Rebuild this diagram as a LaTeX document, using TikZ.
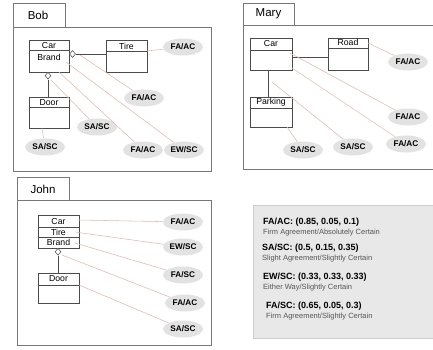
\documentclass[tikz,border=0pt]{standalone}
\usepackage{fontspec}
\setmainfont{Liberation Sans}
\usetikzlibrary{shapes.geometric,calc}
\definecolor{linkc}{RGB}{222,186,178}
\definecolor{ellc}{RGB}{226,226,226}
\definecolor{framec}{RGB}{120,120,120}
\definecolor{boxc}{RGB}{75,75,75}
\definecolor{legfill}{RGB}{232,232,232}
\definecolor{legdraw}{RGB}{210,205,205}
\definecolor{subc}{RGB}{85,85,85}
\begin{document}
\begin{tikzpicture}[x=1pt,y=-1pt,
 frame/.style={draw=framec,line width=0.7pt},
 cls/.style={draw=boxc,line width=0.6pt,fill=white,inner sep=0pt,rectangle},
 lbl/.style={font=\fontsize{8.7}{9}\selectfont,inner sep=0pt},
 title/.style={font=\fontsize{11.5}{12}\selectfont,inner sep=0pt},
 tag/.style={ellipse,fill=ellc,minimum width=40pt,minimum height=17pt,inner sep=0pt,font=\bfseries\fontsize{8.2}{9}\selectfont},
 link/.style={draw=linkc,line width=0.55pt},
 assoc/.style={draw=boxc,line width=0.6pt},
 agg/.style={diamond,draw=boxc,fill=white,line width=0.5pt,minimum width=6pt,minimum height=7pt,inner sep=0pt},
 head/.style={font=\bfseries\fontsize{9}{10}\selectfont,anchor=base west,inner sep=0pt},
 sub/.style={font=\fontsize{7.5}{8}\selectfont,text=subc,anchor=base west,inner sep=0pt}]
\useasboundingbox (0,0) rectangle (433,349);
\fill[white] (0,0) rectangle (433,349);

% ---------------- Bob ----------------
\draw[frame] (13,3) rectangle (65,27);
\draw[frame] (13,27) rectangle (211,171);
\node[title] (bobt) at (38,15.5) {Bob};

\node[cls,minimum width=40pt,minimum height=32pt] (bcar) at (49,56) {};
\draw[assoc] (29,50) -- (69,50);
\node[lbl] (bcarl) at (49,45.5) {Car};
\node[lbl] (bbrandl) at (49,57.5) {Brand};

\node[cls,minimum width=41pt,minimum height=32pt] (btire) at (126.5,56) {};
\draw[assoc] (106,51) -- (147,51);
\node[lbl] (btirel) at (126.5,46) {Tire};

\node[cls,minimum width=40pt,minimum height=31pt] (bdoor) at (49,112.5) {};
\draw[assoc] (29,107) -- (69,107);
\node[lbl] (bdoorl) at (49,102.5) {Door};

\node[agg,anchor=west] (bd1) at (bcar.east |- 0,54) {};
\draw[assoc] (bd1.east) -- (bd1.east -| btire.west);
\node[agg,anchor=north] (bd2) at (48,72) {};
\draw[assoc] (bd2.south) -- (bd2.south |- bdoor.north);

\node[tag] (bfa1) at (183,47) {FA/AC};
\node[tag] (bfa2) at (144,98) {FA/AC};
\node[tag] (bsa1) at (97,127) {SA/SC};
\node[tag] (bsa2) at (45,147) {SA/SC};
\node[tag] (bfa3) at (143,150) {FA/AC};
\node[tag] (bew) at (184,150) {EW/SC};

\coordinate (bs1) at (147,51);
\coordinate (bs2) at (80,55);
\coordinate (bs3) at (66,62);
\coordinate (bs4) at (59,72);
\coordinate (bs5) at (51,80);
\coordinate (bs6) at (42,128);
\draw[link] (bs1) -- (bfa1);
\draw[link] (bs2) -- (bfa2);
\draw[link] (bs3) -- (bew);
\draw[link] (bs4) -- (bfa3);
\draw[link] (bs5) -- (bsa1);
\draw[link] (bs6) -- (bsa2);

% ---------------- Mary ----------------
\draw[frame] (243,3) rectangle (294,25);
\draw[frame] (436,25) -- (243,25) -- (243,169) -- (436,169);
\node[title] (maryt) at (268.5,14) {Mary};

\node[cls,minimum width=42pt,minimum height=32pt] (mcar) at (271,54) {};
\draw[assoc] (250,50) -- (292,50);
\node[lbl] (mcarl) at (271,44) {Car};

\node[cls,minimum width=40pt,minimum height=32pt] (mroad) at (348,54) {};
\draw[assoc] (328,48) -- (368,48);
\node[lbl] (mroadl) at (348,42.5) {Road};

\node[cls,minimum width=42pt,minimum height=30pt] (mpark) at (271,112) {};
\draw[assoc] (250,108) -- (292,108);
\node[lbl] (mparkl) at (271,102.5) {Parking};

\draw[assoc] (mcar.east |- 0,57) -- (mroad.west |- 0,57);
\draw[assoc] (268,70) -- (268,97);

\node[tag] (mfa1) at (408,62) {FA/AC};
\node[tag] (mfa2) at (408,117) {FA/AC};
\node[tag] (mfa3) at (406,144) {FA/AC};
\node[tag] (msa1) at (303,150) {SA/SC};
\node[tag] (msa2) at (353,147) {SA/SC};

\coordinate (ms1) at (368,43);
\coordinate (ms2) at (290,53);
\coordinate (ms3) at (292,68);
\coordinate (ms4) at (272,82);
\coordinate (ms5) at (287,127);
\draw[link] (ms1) -- (mfa1);
\draw[link] (ms2) -- (mfa2);
\draw[link] (ms3) -- (mfa3);
\draw[link] (ms4) -- (msa2);
\draw[link] (ms5) -- (msa1);

% ---------------- John ----------------
\draw[frame] (17,177) rectangle (69,200);
\draw[frame] (17,200) rectangle (211,345);
\node[title] (johnt) at (43,189) {John};

\node[cls,minimum width=41pt,minimum height=33pt] (jcar) at (58.5,231.5) {};
\draw[assoc] (38,227) -- (79,227);
\draw[assoc] (38,237) -- (79,237);
\node[lbl] (jcarl) at (58.5,221.5) {Car};
\node[lbl] (jtirel) at (58.5,232) {Tire};
\node[lbl] (jbrandl) at (58.5,242.5) {Brand};

\node[cls,minimum width=41pt,minimum height=30pt] (jdoor) at (58.5,288) {};
\draw[assoc] (38,285) -- (79,285);
\node[lbl] (jdoorl) at (58.5,279) {Door};

\node[agg,anchor=north] (jd) at (58,248) {};
\draw[assoc] (jd.south) -- (jd.south |- jdoor.north);

\node[tag] (jfa1) at (183,222) {FA/AC};
\node[tag] (jew) at (183,247) {EW/SC};
\node[tag] (jfs) at (183,275) {FA/SC};
\node[tag] (jfa2) at (185,303) {FA/AC};
\node[tag] (jsa) at (183,329) {SA/SC};

\coordinate (js1) at (79,220);
\coordinate (js2) at (75,232);
\coordinate (js3) at (75,243);
\coordinate (js4) at (62,255);
\coordinate (js5) at (79,285);
\draw[link] (js1) -- (jfa1);
\draw[link] (js2) -- (jew);
\draw[link] (js3) -- (jfs);
\draw[link] (js4) -- (jfa2);
\draw[link] (js5) -- (jsa);

% ---------------- Legend ----------------
\draw[draw=legdraw,fill=legfill,line width=0.6pt] (253,205) rectangle (436,338);
\node[head] (h1) at (263,224.5) {FA/AC: (0.85, 0.05, 0.1)};
\node[sub]  (s1) at (263,234.5) {Firm Agreement/Absolutely Certain};
\node[head] (h2) at (262,250.5) {SA/SC: (0.5, 0.15, 0.35)};
\node[sub]  (s2) at (262,260) {Slight Agreement/Slightly Certain};
\node[head] (h3) at (263,279.5) {EW/SC: (0.33, 0.33, 0.33)};
\node[sub]  (s3) at (263,289.5) {Either Way/Slightly Certain};
\node[head] (h4) at (266,308.5) {FA/SC: (0.65, 0.05, 0.3)};
\node[sub]  (s4) at (266,318.5) {Firm Agreement/Slightly Certain};
\end{tikzpicture}
\end{document}
